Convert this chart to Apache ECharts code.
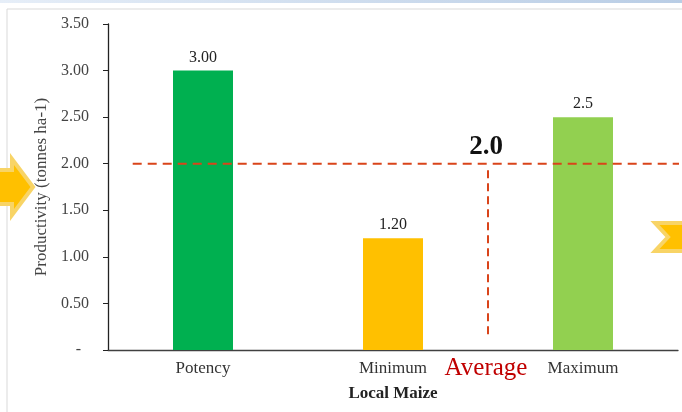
<!DOCTYPE html>
<html>
<head>
<meta charset="utf-8">
<script src="https://cdn.jsdelivr.net/npm/echarts@6/dist/echarts.min.js"></script>
<style>html,body{margin:0;padding:0;background:#fff}#c{width:682px;height:412px}</style>
</head>
<body>
<div id="c"></div>
<script>
const categories = ['Potency', 'Minimum', 'Maximum'];
const values = [3.0, 1.2, 2.5];
const valueLabels = ['3.00', '1.20', '2.5'];
const barColors = ['#00B050', '#FFC000', '#92D050'];
const yTickLabels = {0: '-  ', 0.5: '0.50', 1: '1.00', 1.5: '1.50', 2: '2.00', 2.5: '2.50', 3: '3.00', 3.5: '3.50'};
const averageValue = 2.0;
const averageLabel = '2.0';
// annotation lines on a hidden value x-axis spanning the 3 categories (0..3)
const hLineX = [0.13, 3.02];
const hLineY = [averageValue, averageValue];
const vLineX = [2.0, 2.0];
const vLineY = [1.93, 0.16];

const chart = echarts.init(document.getElementById('c'));
const serif = 'Liberation Serif';
chart.setOption({
  animation: false,
  grid: {left: 108, right: 4, top: 24, bottom: 62},
  xAxis: [{
    type: 'category', data: categories,
    axisLine: {lineStyle: {color: '#404040', width: 1.3}},
    axisTick: {show: false},
    axisLabel: {fontFamily: serif, fontSize: 17, color: '#333', margin: 10},
    name: 'Local Maize', nameLocation: 'middle', nameGap: 35,
    nameTextStyle: {fontFamily: serif, fontSize: 17, fontWeight: 'bold', color: '#222'}
  }, {
    type: 'value', min: 0, max: 3, show: false
  }],
  yAxis: {
    type: 'value', min: 0, max: 3.5, interval: 0.5,
    splitLine: {show: false},
    axisLine: {show: true, lineStyle: {color: '#222', width: 1.3}},
    axisTick: {show: true, length: 5, lineStyle: {color: '#222'}},
    axisLabel: {fontFamily: serif, fontSize: 16, color: '#444', margin: 19,
      formatter: v => yTickLabels[v] !== undefined ? yTickLabels[v] : ''},
    name: 'Productivity (tonnes ha-1)', nameLocation: 'middle', nameGap: 58,
    nameTextStyle: {fontFamily: serif, fontSize: 17, color: '#444'}
  },
  series: [{
    type: 'bar', barWidth: 60, xAxisIndex: 0,
    data: values.map((v, i) => ({value: v, itemStyle: {color: barColors[i]}})),
    label: {show: true, position: 'top', distance: 5, fontFamily: serif, fontSize: 16, color: '#222',
      formatter: p => valueLabels[p.dataIndex]}
  }, {
    type: 'line', xAxisIndex: 1, symbol: 'none', silent: true,
    data: hLineX.map((x, i) => [x, hLineY[i]]),
    lineStyle: {color: '#D9441A', width: 2, type: [9, 6]}
  }, {
    type: 'line', xAxisIndex: 1, symbol: 'none', silent: true,
    data: vLineX.map((x, i) => [x, vLineY[i]]),
    lineStyle: {color: '#D9441A', width: 2, type: [8, 5]}
  }],
  graphic: [
    {type: 'rect', shape: {x: 0, y: 0, width: 682, height: 3}, z: 0,
      style: {fill: new echarts.graphic.LinearGradient(0, 0, 1, 0, [{offset: 0, color: '#E6EEF8'}, {offset: 1, color: '#B9CDE5'}])}},
    {type: 'rect', shape: {x: 7, y: 9, width: 690, height: 420}, z: 0,
      style: {fill: 'none', stroke: '#D9D9D9', lineWidth: 1}},
    {type: 'polygon', z: 10, shape: {points: [[-2, 170], [12, 170], [12, 159], [33, 187], [12, 215], [12, 204], [-2, 204]]},
      style: {fill: '#FFC000', stroke: '#F8D466', lineWidth: 4}},
    {type: 'polygon', z: 10, shape: {points: [[655, 223], [684, 223], [684, 251], [655, 251], [668, 237]]},
      style: {fill: '#FFC000', stroke: '#F8D466', lineWidth: 4}},
    {type: 'text', z: 10, style: {text: averageLabel, x: 486, y: 147, align: 'center', verticalAlign: 'middle',
      font: 'bold 27px "Liberation Serif"', fill: '#111'}},
    {type: 'text', z: 10, style: {text: 'Average', x: 486, y: 368, align: 'center', verticalAlign: 'middle',
      font: '25px "Liberation Serif"', fill: '#C00000'}}
  ]
});
</script>
</body>
</html>
